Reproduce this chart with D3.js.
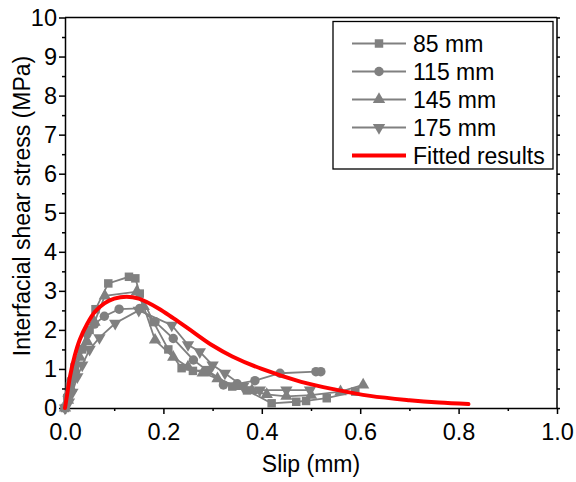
<!DOCTYPE html>
<html lang="en">
<head>
<meta charset="utf-8">
<title>Interfacial shear stress vs slip</title>
<script src="https://d3js.org/d3.v7.min.js"></script>
<style>
body { margin: 0; background: #fff; }
text { font-family: "Liberation Sans", Arial, sans-serif; fill: #000; }
.axis path, .axis line { stroke: #000; stroke-width: 1.5; }
</style>
</head>
<body>
<div id="container"></div>
<script>
// series: slip (mm) / stress (MPa)
var s85 = [0, 0.005, 0.01, 0.02, 0.035, 0.05, 0.062, 0.088, 0.13, 0.143, 0.152, 0.18, 0.21, 0.237, 0.26, 0.288, 0.34, 0.37, 0.42, 0.47, 0.49, 0.532, 0.59];
var t85 = [0, 0.25, 0.55, 0.95, 1.5, 2.0, 2.53, 3.19, 3.36, 3.32, 2.93, 2.2, 1.5, 1.02, 0.95, 0.97, 0.55, 0.45, 0.12, 0.16, 0.18, 0.25, 0.42];

var s115 = [0, 0.005, 0.012, 0.02, 0.03, 0.045, 0.06, 0.08, 0.11, 0.152, 0.183, 0.22, 0.261, 0.29, 0.322, 0.35, 0.386, 0.437, 0.51, 0.52];
var t115 = [0, 0.3, 0.7, 1.1, 1.5, 1.9, 2.15, 2.35, 2.53, 2.55, 2.21, 1.78, 1.23, 0.95, 0.59, 0.62, 0.7, 0.89, 0.93, 0.93];

var s145 = [0, 0.006, 0.012, 0.02, 0.03, 0.045, 0.06, 0.081, 0.146, 0.16, 0.183, 0.22, 0.25, 0.28, 0.31, 0.35, 0.38, 0.41, 0.45, 0.5, 0.56, 0.606];
var t145 = [0, 0.2, 0.5, 0.9, 1.3, 1.7, 2.2, 2.87, 2.98, 2.6, 1.74, 1.3, 1.05, 0.9, 0.75, 0.55, 0.45, 0.35, 0.3, 0.33, 0.42, 0.59];

var s175 = [0, 0.008, 0.015, 0.025, 0.035, 0.05, 0.07, 0.102, 0.15, 0.217, 0.25, 0.274, 0.3, 0.325, 0.362, 0.396, 0.45, 0.498];
var t175 = [0, 0.15, 0.4, 0.8, 1.1, 1.5, 1.8, 2.17, 2.5, 2.12, 1.62, 1.44, 1.1, 0.89, 0.55, 0.46, 0.46, 0.46];

var sFit = [0, 0.005, 0.01, 0.02, 0.03, 0.045, 0.06, 0.08, 0.1, 0.125, 0.15, 0.19, 0.22, 0.26, 0.3, 0.34, 0.4, 0.48, 0.55, 0.62, 0.7, 0.76, 0.82];
var tFit = [0, 0.4, 0.8, 1.35, 1.75, 2.15, 2.45, 2.68, 2.8, 2.85, 2.8, 2.55, 2.3, 1.95, 1.6, 1.32, 1.0, 0.67, 0.47, 0.31, 0.2, 0.14, 0.1];

var seriesNames = ["85 mm", "115 mm", "145 mm", "175 mm"];
var seriesSymbols = [d3.symbolSquare, d3.symbolCircle, d3.symbolTriangle, d3.symbolTriangle];
var xTicks = [0, 0.2, 0.4, 0.6, 0.8, 1.0];
var yTicks = [0, 1, 2, 3, 4, 5, 6, 7, 8, 9, 10];

var w = 576, h = 482;
var svg = d3.select("#container").append("svg").attr("width", w).attr("height", h);

var x = d3.scaleLinear().domain([0, 1]).range([65, 557]);
var y = d3.scaleLinear().domain([0, 10]).range([408, 17.5]);

var gray = "#808080";

// minor ticks
svg.append("g").attr("class", "axis").attr("transform", "translate(0,408)")
    .call(d3.axisBottom(x).tickValues(d3.range(0.1, 1, 0.2)).tickSize(3).tickFormat(""))
    .select(".domain").remove();
svg.append("g").attr("class", "axis").attr("transform", "translate(65,0)")
    .call(d3.axisLeft(y).tickValues(d3.range(0.5, 10, 1)).tickSize(3).tickFormat(""))
    .select(".domain").remove();
svg.append("g").attr("class", "axis").attr("transform", "translate(557,0)")
    .call(d3.axisRight(y).tickValues(d3.range(0, 10.01, 0.5)).tickSize(3).tickFormat(""))
    .select(".domain").remove();

// major axes
var xAxis = svg.append("g").attr("class", "axis").attr("transform", "translate(0,408)")
    .call(d3.axisBottom(x).tickValues(xTicks).tickSize(6).tickSizeOuter(0).tickPadding(9).tickFormat(d3.format(".1f")));
xAxis.selectAll("text").attr("font-size", 23.5);
var yAxis = svg.append("g").attr("class", "axis").attr("transform", "translate(65,0)")
    .call(d3.axisLeft(y).tickValues(yTicks).tickSize(6).tickSizeOuter(0).tickPadding(2).tickFormat(d3.format("d")));
yAxis.selectAll("text").attr("font-size", 23.5);

// frame top/right
svg.append("line").attr("x1", 65).attr("x2", 557).attr("y1", 17.5).attr("y2", 17.5).attr("stroke", "#000").attr("stroke-width", 1.5);
svg.append("line").attr("x1", 557).attr("x2", 557).attr("y1", 17.5).attr("y2", 408).attr("stroke", "#000").attr("stroke-width", 1.5);

// titles
svg.append("text").attr("x", 311).attr("y", 472).attr("text-anchor", "middle").attr("font-size", 23).text("Slip (mm)");
svg.append("text").attr("transform", "translate(30,206) rotate(-90)").attr("text-anchor", "middle").attr("font-size", 23)
    .text("Interfacial shear stress (MPa)");

// data series
var allS = [s85, s115, s145, s175];
var allT = [t85, t115, t145, t175];
var line = d3.line().x(function(d) { return x(d[0]); }).y(function(d) { return y(d[1]); });

function marker(g, i, cx, cy) {
    var size = i == 1 ? 70 : (i == 0 ? 72 : 66);
    var p = g.append("path").attr("d", d3.symbol().type(seriesSymbols[i]).size(size)())
        .attr("fill", gray);
    if (i == 3) p.attr("transform", "translate(" + cx + "," + cy + ") rotate(180)");
    else p.attr("transform", "translate(" + cx + "," + cy + ")");
}

allS.forEach(function(sv, i) {
    var pts = sv.map(function(s, j) { return [s, allT[i][j]]; });
    var g = svg.append("g");
    g.append("path").datum(pts).attr("d", line).attr("fill", "none").attr("stroke", gray).attr("stroke-width", 1.8);
    pts.forEach(function(p) { marker(g, i, x(p[0]), y(p[1])); });
});

// fitted curve
var fitPts = sFit.map(function(s, j) { return [s, tFit[j]]; });
svg.append("path").datum(fitPts)
    .attr("d", d3.line().curve(d3.curveCatmullRom).x(function(d) { return x(d[0]); }).y(function(d) { return y(d[1]); }))
    .attr("fill", "none").attr("stroke", "#ff0000").attr("stroke-width", 4).attr("stroke-linecap", "round");

// legend
var lg = svg.append("g");
lg.append("rect").attr("x", 333).attr("y", 21.5).attr("width", 220).attr("height", 147.5)
    .attr("fill", "#fff").attr("stroke", "#000").attr("stroke-width", 1.3);
var rowY = [43.5, 71.5, 99.5, 127.5, 155.5];
seriesNames.forEach(function(n, i) {
    lg.append("line").attr("x1", 352).attr("x2", 406).attr("y1", rowY[i]).attr("y2", rowY[i])
        .attr("stroke", gray).attr("stroke-width", 1.8);
    marker(lg, i, 379, rowY[i]);
    lg.append("text").attr("x", 413).attr("y", rowY[i] + 8).attr("font-size", 23).text(n);
});
lg.append("line").attr("x1", 352).attr("x2", 406).attr("y1", rowY[4]).attr("y2", rowY[4])
    .attr("stroke", "#ff0000").attr("stroke-width", 4);
lg.append("text").attr("x", 413).attr("y", rowY[4] + 8).attr("font-size", 23).text("Fitted results");
</script>
</body>
</html>
